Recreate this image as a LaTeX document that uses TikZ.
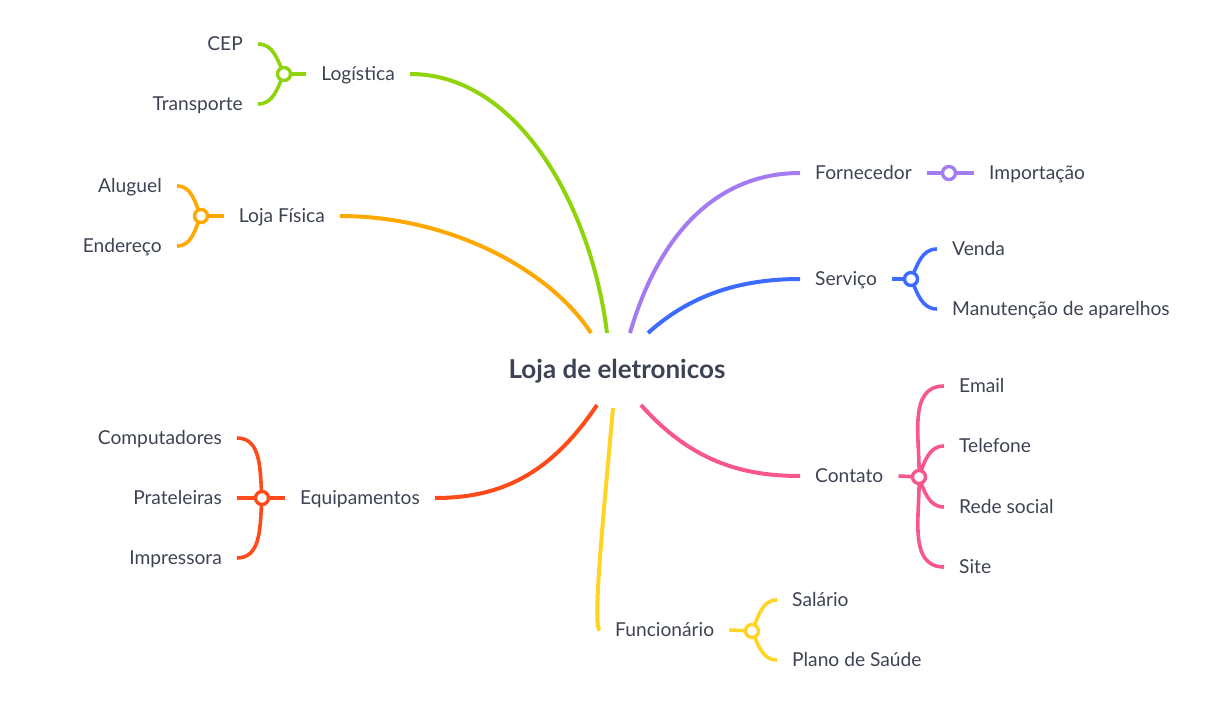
\documentclass[tikz,border=0pt]{standalone}
\usepackage{fontspec}
\setmainfont{Lato}
\definecolor{txt}{HTML}{3D4352}
\definecolor{cLog}{HTML}{8FD40B}
\definecolor{cLoja}{HTML}{FFA800}
\definecolor{cForn}{HTML}{A47BF0}
\definecolor{cServ}{HTML}{3D6BFF}
\definecolor{cCont}{HTML}{F7578A}
\definecolor{cEquip}{HTML}{FF4A1A}
\definecolor{cFunc}{HTML}{FFD424}
\pgfdeclarelayer{bg}
\pgfsetlayers{bg,main}
\begin{document}
\begin{tikzpicture}[x=1pt,y=-1pt,line cap=round,
  lbl/.style={font=\fontsize{19.2}{22}\selectfont, text=txt, inner ysep=0pt, inner xsep=15pt, text height=13.4pt, text depth=0pt},
  br/.style={line width=4pt},
  sub/.style={line width=3.6pt},
  hub/.style={circle, draw, line width=3.4pt, fill=white, minimum size=13pt, inner sep=0pt}]
\useasboundingbox (0,0) rectangle (1218,723);
% root
\node[font=\bfseries\fontsize{26}{30}\selectfont, text=txt] (root) at (617,371) {Loja de eletronicos};
\coordinate (rlog) at (607,333);
\coordinate (rloja) at (591,333);
\coordinate (rforn) at (630,333);
\coordinate (rserv) at (648,333);
\coordinate (rcont) at (641,405);
\coordinate (requip) at (597,405);
\coordinate (rfunc) at (613,408);
% main labels
\node[lbl, anchor=east] (log) at (410,74) {Logística};
\node[lbl, anchor=east] (loja) at (340,216) {Loja Física};
\node[lbl, anchor=west] (forn) at (800,173) {Fornecedor};
\node[lbl, anchor=west] (serv) at (800,279) {Serviço};
\node[lbl, anchor=west] (cont) at (800,476) {Contato};
\node[lbl, anchor=east] (equip) at (435,498) {Equipamentos};
\node[lbl, anchor=west] (func) at (600,630) {Funcionário};
% hubs
\node[hub, draw=cLog] (hlog) at (284,74) {};
\node[hub, draw=cLoja] (hloja) at (201,216) {};
\node[hub, draw=cForn] (hforn) at (949,173) {};
\node[hub, draw=cServ] (hserv) at (911,279) {};
\node[hub, draw=cCont] (hcont) at (919,477) {};
\node[hub, draw=cEquip] (hequip) at (262,498) {};
\node[hub, draw=cFunc] (hfunc) at (752,631) {};
% children
\node[lbl, anchor=east] (cep) at (258,44) {CEP};
\node[lbl, anchor=east] (transp) at (258,104) {Transporte};
\node[lbl, anchor=east] (alug) at (177,186) {Aluguel};
\node[lbl, anchor=east] (ender) at (177,246) {Endereço};
\node[lbl, anchor=west] (import) at (974,173) {Importação};
\node[lbl, anchor=west] (venda) at (937,249) {Venda};
\node[lbl, anchor=west] (manut) at (937,309) {Manutenção de aparelhos};
\node[lbl, anchor=west] (email) at (944,386) {Email};
\node[lbl, anchor=west] (tel) at (944,446) {Telefone};
\node[lbl, anchor=west] (rede) at (944,507) {Rede social};
\node[lbl, anchor=west] (site) at (944,567) {Site};
\node[lbl, anchor=east] (comp) at (237,438) {Computadores};
\node[lbl, anchor=east] (prat) at (237,498) {Prateleiras};
\node[lbl, anchor=east] (impr) at (237,558) {Impressora};
\node[lbl, anchor=west] (sal) at (777,600) {Salário};
\node[lbl, anchor=west] (plano) at (777,660) {Plano de Saúde};
\begin{pgfonlayer}{bg}
% main branches
\draw[br,cLog] (rlog) .. controls (592,210) and (520,74) .. (log.east);
\draw[br,cLoja] (rloja) .. controls (550,270) and (450,216) .. (loja.east);
\draw[br,cForn] (rforn) .. controls (660,230) and (720,173) .. (forn.west);
\draw[br,cServ] (rserv) .. controls (690,295) and (740,279) .. (serv.west);
\draw[br,cCont] (rcont) .. controls (690,460) and (740,476) .. (cont.west);
\draw[br,cEquip] (requip) .. controls (550,475) and (500,498) .. (equip.east);
\draw[br,cFunc] (rfunc) .. controls (603,520) and (592,630) .. (func.west);
% hub stubs
\draw[sub,cLog] (hlog.center) -- (log.west);
\draw[sub,cLoja] (hloja.center) -- (loja.west);
\draw[sub,cForn] (forn.east) -- (hforn.center) -- (import.west);
\draw[sub,cServ] (serv.east) -- (hserv.center);
\draw[sub,cCont] (cont.east) -- (hcont.center);
\draw[sub,cEquip] (hequip.center) -- (equip.west);
\draw[sub,cFunc] (func.east) -- (hfunc.center);
% sub branches
\draw[sub,cLog] (hlog.center) to[out=115,in=0] (cep.east);
\draw[sub,cLog] (hlog.center) to[out=-115,in=0] (transp.east);
\draw[sub,cLoja] (hloja.center) to[out=115,in=0] (alug.east);
\draw[sub,cLoja] (hloja.center) to[out=-115,in=0] (ender.east);
\draw[sub,cServ] (hserv.center) to[out=65,in=180] (venda.west);
\draw[sub,cServ] (hserv.center) to[out=-65,in=180] (manut.west);
\draw[sub,cCont] (hcont.center) to[out=88,in=180] (email.west);
\draw[sub,cCont] (hcont.center) to[out=70,in=180] (tel.west);
\draw[sub,cCont] (hcont.center) to[out=-70,in=180] (rede.west);
\draw[sub,cCont] (hcont.center) to[out=-88,in=180] (site.west);
\draw[sub,cEquip] (hequip.center) to[out=95,in=0] (comp.east);
\draw[sub,cEquip] (hequip.center) -- (prat.east);
\draw[sub,cEquip] (hequip.center) to[out=-95,in=0] (impr.east);
\draw[sub,cFunc] (hfunc.center) to[out=65,in=180] (sal.west);
\draw[sub,cFunc] (hfunc.center) to[out=-65,in=180] (plano.west);
\end{pgfonlayer}
\end{tikzpicture}
\end{document}
